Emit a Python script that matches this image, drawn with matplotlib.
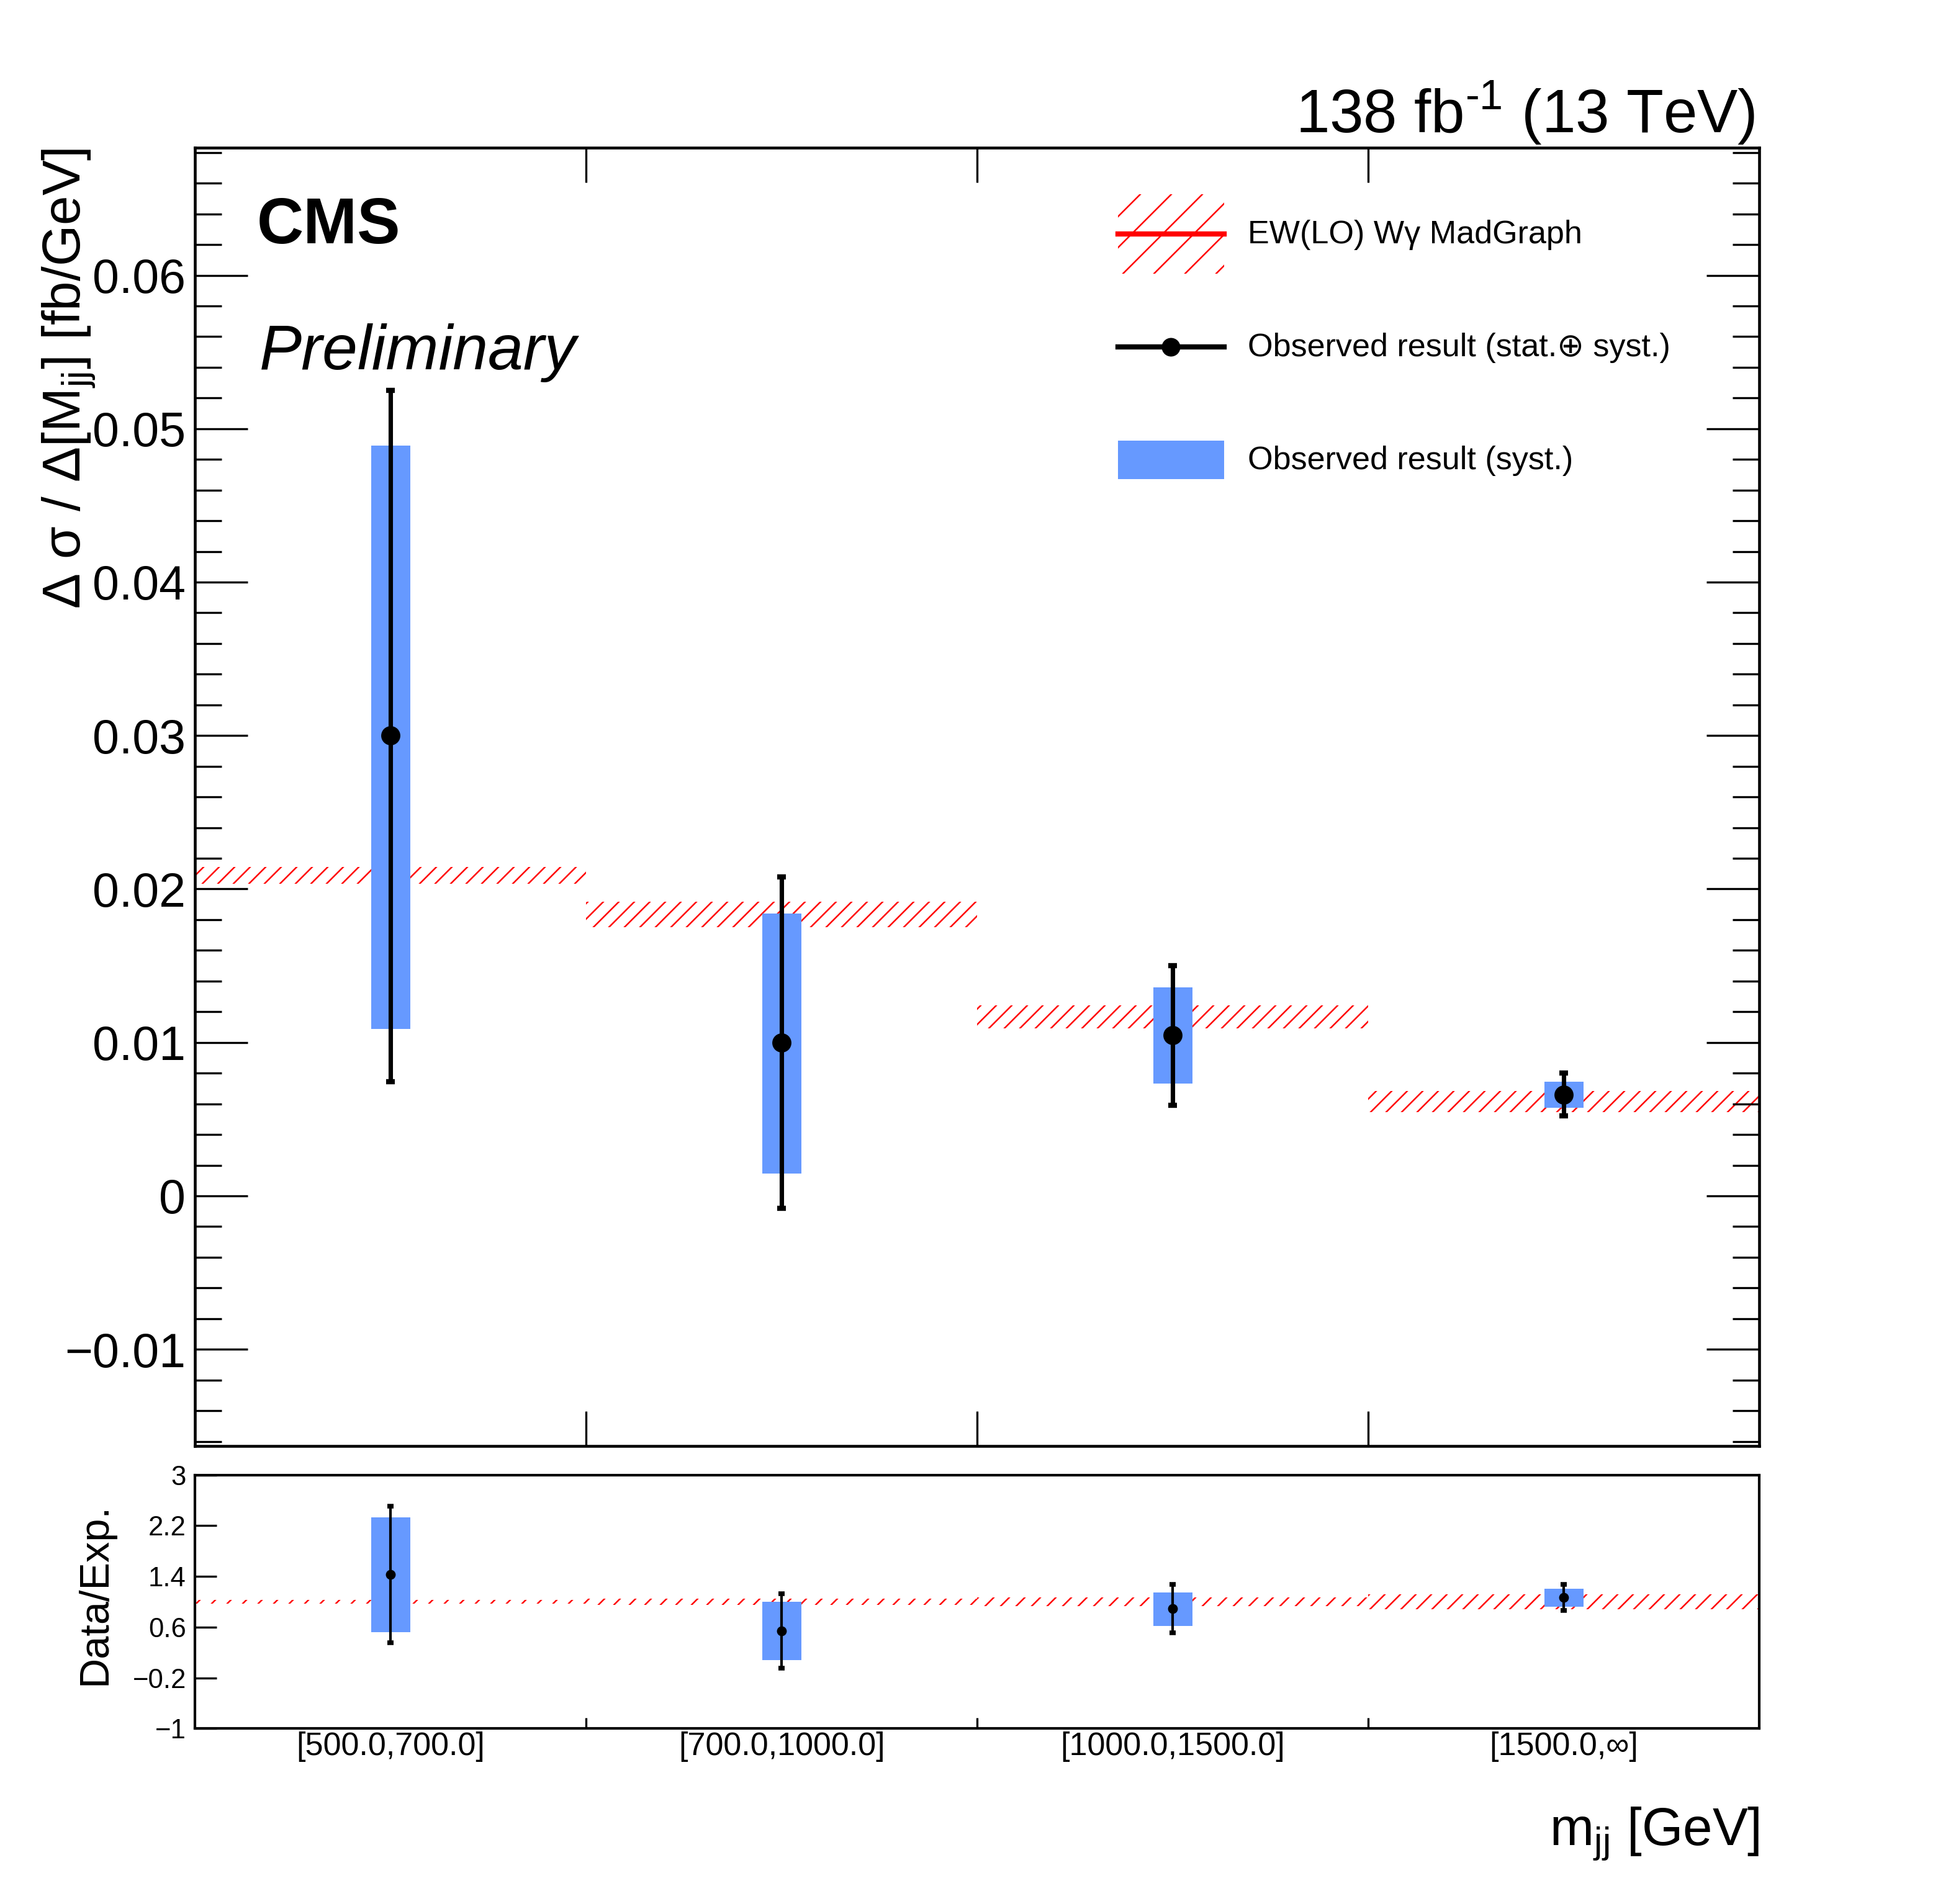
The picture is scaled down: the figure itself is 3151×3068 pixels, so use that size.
import numpy as np
import matplotlib
matplotlib.use("Agg")
import matplotlib.pyplot as plt
import matplotlib.patches as mpatches
from matplotlib.lines import Line2D
from matplotlib.legend_handler import HandlerTuple, HandlerPatch, HandlerLine2D
from matplotlib.ticker import MultipleLocator, FuncFormatter

# ---------------- data ----------------
bin_labels = ["[500.0,700.0]", "[700.0,1000.0]", "[1000.0,1500.0]", "[1500.0,\u221e]"]
obs = [0.0300, 0.0100, 0.01049, 0.0066]
obs_tot_hi = [0.0525, 0.0208, 0.0150, 0.0080]
obs_tot_lo = [0.00745, -0.0008, 0.0059, 0.0052]
obs_syst_hi = [0.0489, 0.0184, 0.01357, 0.00745]
obs_syst_lo = [0.01087, 0.00146, 0.0073, 0.00573]
pred = [0.0209, 0.01836, 0.01167, 0.00614]
pred_err = [0.00054, 0.00083, 0.00076, 0.0007]

ratio = [1.432, 0.544, 0.896, 1.066]
ratio_tot_hi = [2.51, 1.125, 1.272, 1.272]
ratio_tot_lo = [0.355, -0.046, 0.511, 0.861]
ratio_syst_hi = [2.334, 1.001, 1.151, 1.204]
ratio_syst_lo = [0.519, 0.077, 0.622, 0.92]
ratio_band = [0.026, 0.045, 0.065, 0.114]

ratio_yticks = [-1, -0.2, 0.6, 1.4, 2.2, 3]

# ---------------- style ----------------
plt.rcParams['font.family'] = ['Liberation Sans', 'DejaVu Sans']
plt.rcParams['mathtext.fontset'] = 'custom'
plt.rcParams['mathtext.rm'] = 'Liberation Sans'
plt.rcParams['mathtext.it'] = 'Liberation Sans:italic'
plt.rcParams['mathtext.bf'] = 'Liberation Sans:bold'
plt.rcParams['mathtext.sf'] = 'Liberation Sans'
plt.rcParams['hatch.linewidth'] = 0.6

BLUE = '#6699ff'
HATCH = '////'

obs = np.array(obs); pred = np.array(pred); pred_err = np.array(pred_err)
obs_tot_hi = np.array(obs_tot_hi); obs_tot_lo = np.array(obs_tot_lo)
obs_syst_hi = np.array(obs_syst_hi); obs_syst_lo = np.array(obs_syst_lo)
ratio = np.array(ratio); ratio_band = np.array(ratio_band)
ratio_tot_hi = np.array(ratio_tot_hi); ratio_tot_lo = np.array(ratio_tot_lo)
ratio_syst_hi = np.array(ratio_syst_hi); ratio_syst_lo = np.array(ratio_syst_lo)

nb = len(bin_labels)
xc = np.arange(nb) + 0.5
edges = np.arange(1, nb)

fig = plt.figure(figsize=(3151 / 300, 3068 / 300), dpi=300)
ax = fig.add_axes([0.09965, 0.24055, 0.7999, 0.68178])
rax = fig.add_axes([0.09965, 0.09208, 0.7999, 0.13325])


def minus_fmt(v, p):
    s = '%g' % round(v, 6)
    if s == '-0':
        s = '0'
    return s.replace('-', '\u2212')


# ---------------- main panel ----------------
ax.bar(xc, 2 * pred_err, bottom=pred - pred_err, width=1.0, fill=False,
       hatch=HATCH, edgecolor='red', linewidth=0, zorder=1)
ax.bar(xc, obs_syst_hi - obs_syst_lo, bottom=obs_syst_lo, width=0.1,
       color=BLUE, linewidth=0, zorder=2)
ax.errorbar(xc, obs, yerr=[obs - obs_tot_lo, obs_tot_hi - obs], fmt='o',
            color='k', ms=6.4, elinewidth=1.7, capsize=1.7, capthick=2.0, zorder=3)

ax.set_xlim(0, nb)
ax.set_ylim(-0.0163, 0.0683)
ax.yaxis.set_major_locator(MultipleLocator(0.01))
ax.yaxis.set_minor_locator(MultipleLocator(0.002))
ax.yaxis.set_major_formatter(FuncFormatter(minus_fmt))
ax.set_xticks(edges)
ax.tick_params(axis='x', which='major', direction='in', top=True, bottom=True,
               length=13.5, width=0.8, labelbottom=False)
ax.tick_params(axis='x', which='minor', length=0)
ax.tick_params(axis='y', which='major', direction='in', left=True, right=True,
               length=20.4, width=0.8, labelsize=18.5, pad=3.6)
ax.tick_params(axis='y', which='minor', direction='in', left=True, right=True,
               length=10.4, width=0.8)
for s in ax.spines.values():
    s.set_linewidth(1.1)

ax.set_ylabel("\u0394 \u03c3 / \u0394[M$_{\\mathrm{jj}}$] [fb/GeV]", fontsize=20.5, loc='top')
ax.yaxis.set_label_coords(-0.0625, 1.0)

ax.text(0.0397, 0.9267, "CMS", transform=ax.transAxes, fontsize=25,
        fontweight='bold', ha='left', va='baseline')
ax.text(0.0413, 0.8295, "Preliminary", transform=ax.transAxes, fontsize=24.5,
        style='italic', ha='left', va='baseline')
ax.text(0.997, 1.0121, "138 fb$^{\\text{-1}}$ (13 TeV)", transform=ax.transAxes,
        fontsize=23.5, ha='right', va='baseline')

# legend
h_ew = (mpatches.Patch(facecolor='none', edgecolor='red', hatch='//', linewidth=0),
        Line2D([], [], color='red', lw=2.0))
h_obs = Line2D([], [], color='k', lw=2.0, marker='o', ms=6.2)
h_syst = mpatches.Patch(color=BLUE, linewidth=0)


def short_rect(legend, orig_handle, xdescent, ydescent, width, height, fontsize):
    if orig_handle.get_hatch():
        return mpatches.Rectangle((-xdescent, -ydescent), width, height)
    return mpatches.Rectangle((-xdescent, -ydescent + 0.26 * height), width, 0.48 * height)


class CenteredLine(HandlerLine2D):
    def create_artists(self, legend, orig_handle, xdescent, ydescent, width, height,
                       fontsize, trans):
        artists = super().create_artists(legend, orig_handle, xdescent, ydescent,
                                         width, height, fontsize, trans)
        for a in artists:
            yd = np.asarray(a.get_ydata(), dtype=float)
            a.set_ydata(np.full_like(yd, height / 2.0 - ydescent))
        return artists


leg = ax.legend([h_ew, h_obs, h_syst],
                ["EW(LO) W\u03b3 MadGraph", "Observed result (stat.\u2295 syst.)",
                 "Observed result (syst.)"],
                handler_map={tuple: HandlerTuple(ndivide=1, pad=0),
                             Line2D: CenteredLine(),
                             mpatches.Patch: HandlerPatch(patch_func=short_rect)},
                loc='upper left', bbox_to_anchor=(0.590, 0.9643), frameon=False,
                fontsize=12.5, handlelength=3.28, handleheight=3.40, labelspacing=1.04,
                handletextpad=0.73, borderpad=0, borderaxespad=0, numpoints=1)

# ---------------- ratio panel ----------------
rax.bar(xc, 2 * ratio_band, bottom=1 - ratio_band, width=1.0, fill=False,
        hatch=HATCH, edgecolor='red', linewidth=0, zorder=1)
rax.bar(xc, ratio_syst_hi - ratio_syst_lo, bottom=ratio_syst_lo, width=0.1,
        color=BLUE, linewidth=0, zorder=2)
rax.errorbar(xc, ratio, yerr=[ratio - ratio_tot_lo, ratio_tot_hi - ratio], fmt='o',
             color='k', ms=2.8, elinewidth=1.0, capsize=1.2, capthick=1.8, zorder=3)

rax.set_xlim(0, nb)
rax.set_ylim(-1, 3)
rax.set_yticks(ratio_yticks)
rax.yaxis.set_major_formatter(FuncFormatter(minus_fmt))
rax.set_xticks(edges)
rax.set_xticks(xc, minor=True)
rax.set_xticklabels(bin_labels, minor=True)
rax.tick_params(axis='x', which='major', direction='in', bottom=True, top=False,
                length=4.0, width=0.8, labelbottom=False)
rax.tick_params(axis='x', which='minor', length=0, labelsize=12.5, pad=1.0)
rax.tick_params(axis='y', which='major', direction='in', left=True, right=False,
                length=8.4, width=0.8, labelsize=10.5, pad=3.4)
rax.tick_params(axis='y', which='minor', left=False, right=False)
for s in rax.spines.values():
    s.set_linewidth(1.0)

rax.set_ylabel("Data/Exp.", fontsize=16)
rax.yaxis.set_label_coords(-0.0512, 0.53)

rax.set_xlabel("m$_{\\mathrm{jj}}$ [GeV]", fontsize=20.5, loc='right')
rax.xaxis.label.set_va('baseline')
rax.xaxis.set_label_coords(1.0, -0.458)

fig.savefig("out.png", dpi=300)
